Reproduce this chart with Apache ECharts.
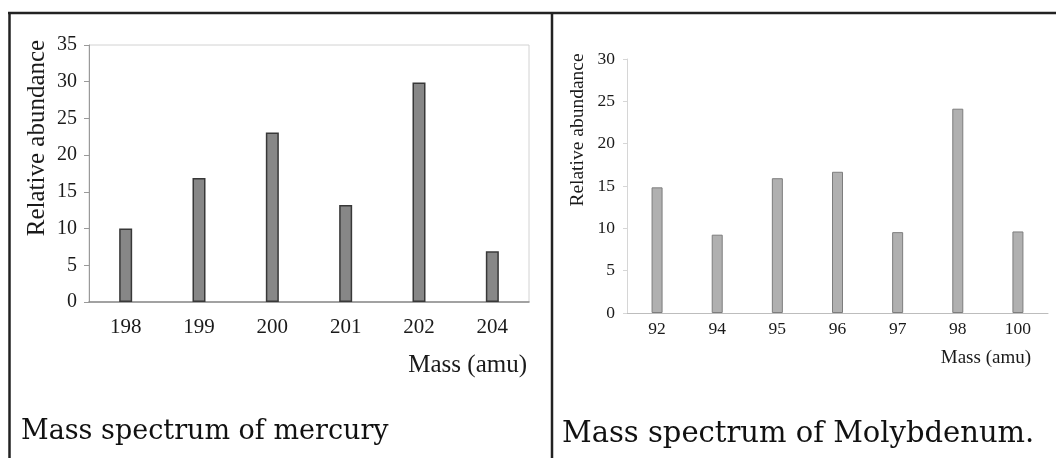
<!DOCTYPE html>
<html>
<head>
<meta charset="utf-8">
<script src="https://cdn.jsdelivr.net/npm/echarts@6/dist/echarts.min.js"></script>
<style>
  html, body { margin: 0; padding: 0; background: #fff; }
  #chart { width: 1056px; height: 458px; }
</style>
</head>
<body>
<div id="chart"></div>
<script>
// Mercury isotopes
const hgMasses = ['198', '199', '200', '201', '202', '204'];
const hgAbundance = [10.0, 16.9, 23.1, 13.2, 29.9, 6.9];

// Molybdenum isotopes
const moMasses = ['92', '94', '95', '96', '97', '98', '100'];
const moAbundance = [14.84, 9.25, 15.92, 16.68, 9.55, 24.13, 9.63];

// Text
const yTitle = 'Relative abundance';
const xTitle = 'Mass (amu)';
const hgCaption = 'Mass spectrum of mercury';
const moCaption = 'Mass spectrum of Molybdenum.';

const serif = 'Liberation Serif';
const ink = '#1a1a1a';

const chart = echarts.init(document.getElementById('chart'));

chart.setOption({
  animation: false,
  backgroundColor: '#ffffff',
  grid: [
    { left: 89, top: 45, width: 440, height: 257, show: true,
      borderColor: '#d2d2d2', borderWidth: 1, backgroundColor: 'transparent' },
    { left: 627, top: 59, width: 421, height: 254, show: false }
  ],
  xAxis: [
    {
      type: 'category', gridIndex: 0, data: hgMasses,
      axisLine: { lineStyle: { color: '#8a8a8a', width: 1.5 } },
      axisTick: { length: 5, lineStyle: { color: '#8a8a8a' } },
      axisLabel: { fontFamily: serif, fontSize: 21, color: ink, margin: 15 }
    },
    {
      type: 'category', gridIndex: 1, data: moMasses,
      axisLine: { lineStyle: { color: '#bdbdbd' } },
      axisTick: { length: 4, lineStyle: { color: '#bdbdbd' } },
      axisLabel: { fontFamily: serif, fontSize: 17.5, color: ink, margin: 7 }
    }
  ],
  yAxis: [
    {
      type: 'value', gridIndex: 0, min: 0, max: 35, interval: 5,
      axisLine: { show: true, lineStyle: { color: '#9a9a9a' } },
      axisTick: { show: true, length: 5, lineStyle: { color: '#9a9a9a' } },
      splitLine: { show: false },
      axisLabel: { fontFamily: serif, fontSize: 20, color: ink, margin: 12 }
    },
    {
      type: 'value', gridIndex: 1, min: 0, max: 30, interval: 5,
      axisLine: { show: true, lineStyle: { color: '#d6d6d6' } },
      axisTick: { show: true, length: 4, lineStyle: { color: '#d6d6d6' } },
      splitLine: { show: false },
      axisLabel: { fontFamily: serif, fontSize: 17.5, color: ink, margin: 12 }
    }
  ],
  series: [
    {
      type: 'bar', xAxisIndex: 0, yAxisIndex: 0, data: hgAbundance, barWidth: 13,
      itemStyle: { color: '#878787', borderColor: '#383838', borderWidth: 1.5 }
    },
    {
      type: 'bar', xAxisIndex: 1, yAxisIndex: 1, data: moAbundance, barWidth: 11,
      itemStyle: { color: '#b0b0b0', borderColor: '#7d7d7d', borderWidth: 1 }
    }
  ],
  graphic: [
    // panel frame
    { type: 'line', shape: { x1: 8, y1: 13, x2: 1056, y2: 13 },
      style: { stroke: '#222', lineWidth: 2.5 } },
    { type: 'line', shape: { x1: 9.5, y1: 12, x2: 9.5, y2: 458 },
      style: { stroke: '#222', lineWidth: 2.5 } },
    { type: 'line', shape: { x1: 552, y1: 12, x2: 552, y2: 458 },
      style: { stroke: '#222', lineWidth: 2.5 } },

    // mercury axis titles
    { type: 'text', x: 37, y: 138, rotation: Math.PI / 2,
      style: { text: yTitle, font: '25px "Liberation Serif"', fill: ink,
               textAlign: 'center', verticalAlign: 'middle' } },
    { type: 'text', x: 527, y: 365,
      style: { text: xTitle, font: '25px "Liberation Serif"', fill: ink,
               textAlign: 'right', verticalAlign: 'middle' } },

    // molybdenum axis titles
    { type: 'text', x: 578, y: 130, rotation: Math.PI / 2,
      style: { text: yTitle, font: '19.5px "Liberation Serif"', fill: ink,
               textAlign: 'center', verticalAlign: 'middle' } },
    { type: 'text', x: 1031, y: 358,
      style: { text: xTitle, font: '19px "Liberation Serif"', fill: ink,
               textAlign: 'right', verticalAlign: 'middle' } },

    // captions
    { type: 'text', x: 21, y: 432,
      style: { text: hgCaption, font: '27px "DejaVu Serif"', fill: '#111',
               textAlign: 'left', verticalAlign: 'middle' } },
    { type: 'text', x: 562, y: 434,
      style: { text: moCaption, font: '29px "DejaVu Serif"', fill: '#111',
               textAlign: 'left', verticalAlign: 'middle' } }
  ]
});
</script>
</body>
</html>
